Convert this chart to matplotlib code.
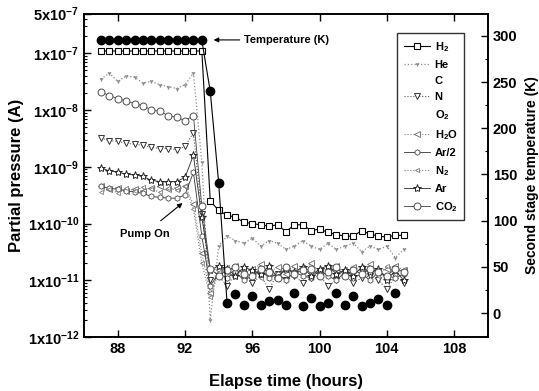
import matplotlib
matplotlib.use('Agg')
import matplotlib.pyplot as plt
from matplotlib.lines import Line2D
from matplotlib.ticker import FixedLocator, MultipleLocator, NullFormatter

plt.rcParams.update({
    'font.family': ['Liberation Sans', 'DejaVu Sans'],
    'font.weight': 'bold',
    'mathtext.fontset': 'custom',
    'mathtext.rm': 'Liberation Sans:bold',
    'mathtext.it': 'Liberation Sans:bold',
    'mathtext.bf': 'Liberation Sans:bold',
    'mathtext.default': 'rm',
})

# ---------------- data ----------------
times = [87.0, 87.5, 88.0, 88.5, 89.0, 89.5, 90.0, 90.5, 91.0, 91.5, 92.0, 92.5, 93.0,
         93.5, 94.0, 94.5, 95.0, 95.5, 96.0, 96.5, 97.0, 97.5, 98.0, 98.5, 99.0, 99.5,
         100.0, 100.5, 101.0, 101.5, 102.0, 102.5, 103.0, 103.5, 104.0, 104.5, 105.0]

h2 = [1.1e-7, 1.1e-7, 1.1e-7, 1.1e-7, 1.1e-7, 1.1e-7, 1.1e-7, 1.1e-7, 1.1e-7, 1.1e-7, 1.1e-7, 1.1e-7, 1.1e-7,
      2.5e-10, 1.7e-10, 1.4e-10, 1.3e-10, 1.05e-10, 1.0e-10, 9.5e-11, 9.0e-11, 9.5e-11, 7.2e-11, 9.5e-11,
      9.5e-11, 7.5e-11, 8.0e-11, 7.0e-11, 6.4e-11, 6.0e-11, 6.0e-11, 7.5e-11, 6.5e-11, 6.0e-11, 5.8e-11,
      6.2e-11, 6.2e-11]

he = [3.5e-8, 4.5e-8, 3.2e-8, 4.0e-8, 3.8e-8, 3.0e-8, 3.2e-8, 2.8e-8, 2.6e-8, 2.4e-8, 2.8e-8, 4.5e-8, 1.2e-9,
      2.0e-12, 4.0e-11, 6.0e-11, 5.0e-11, 4.5e-11, 5.5e-11, 4.0e-11, 5.0e-11, 4.5e-11, 3.5e-11, 4.0e-11,
      5.0e-11, 4.0e-11, 3.5e-11, 4.5e-11, 3.5e-11, 4.0e-11, 4.5e-11, 3.2e-11, 4.0e-11, 3.5e-11, 4.0e-11,
      2.5e-11, 3.5e-11]

n = [3.2e-9, 2.9e-9, 2.8e-9, 2.6e-9, 2.5e-9, 2.4e-9, 2.2e-9, 2.1e-9, 2.1e-9, 2.0e-9, 2.3e-9, 4.0e-9, 1.5e-10,
     1.0e-11, 1.2e-11, 8.0e-12, 1.3e-11, 1.1e-11, 9.0e-12, 1.2e-11, 7.0e-12, 1.3e-11, 1.0e-11, 1.2e-11,
     9.0e-12, 1.1e-11, 1.2e-11, 8.0e-12, 1.0e-11, 1.2e-11, 9.0e-12, 1.1e-11, 1.2e-11, 1.0e-11, 7.0e-12,
     1.2e-11, 9.0e-12]

h2o = [4.5e-10, 4.0e-10, 4.3e-10, 3.8e-10, 4.1e-10, 3.7e-10, 4.3e-10, 4.5e-10, 4.0e-10, 4.3e-10, 4.6e-10, 2.2e-10, 3.0e-11,
       6.0e-12, 1.5e-11, 1.4e-11, 1.8e-11, 1.3e-11, 1.6e-11, 1.9e-11, 1.4e-11, 1.7e-11, 1.3e-11, 1.8e-11,
       1.5e-11, 2.0e-11, 1.4e-11, 1.6e-11, 1.8e-11, 1.3e-11, 1.7e-11, 1.5e-11, 1.9e-11, 1.4e-11, 1.6e-11,
       1.8e-11, 1.5e-11]

ar_half = [4.5e-10, 4.2e-10, 4.0e-10, 3.8e-10, 3.6e-10, 3.4e-10, 3.0e-10, 2.9e-10, 2.8e-10, 2.8e-10, 3.2e-10, 8.0e-10, 6.0e-11,
           8.0e-12, 1.3e-11, 1.1e-11, 1.4e-11, 1.0e-11, 1.2e-11, 1.5e-11, 1.1e-11, 1.3e-11, 1.0e-11, 1.4e-11,
           1.2e-11, 1.1e-11, 1.5e-11, 1.2e-11, 1.0e-11, 1.4e-11, 1.1e-11, 1.3e-11, 1.0e-11, 1.4e-11, 1.2e-11,
           1.1e-11, 1.3e-11]

n2 = [3.6e-10, 4.0e-10, 3.5e-10, 4.2e-10, 3.8e-10, 4.4e-10, 4.0e-10, 3.6e-10, 4.2e-10, 3.9e-10, 4.5e-10, 1.8e-10, 2.0e-11,
      5.0e-12, 1.4e-11, 1.7e-11, 1.2e-11, 1.6e-11, 1.4e-11, 1.1e-11, 1.8e-11, 1.2e-11, 1.6e-11, 1.3e-11,
      1.7e-11, 1.2e-11, 1.5e-11, 1.8e-11, 1.3e-11, 1.6e-11, 1.2e-11, 1.7e-11, 1.4e-11, 1.2e-11, 1.8e-11,
      1.3e-11, 1.6e-11]

ar = [9.5e-10, 8.5e-10, 8.0e-10, 7.5e-10, 7.2e-10, 6.8e-10, 5.8e-10, 5.5e-10, 5.5e-10, 5.5e-10, 6.5e-10, 1.6e-9, 1.3e-10,
      1.5e-11, 1.8e-11, 1.6e-11, 1.2e-11, 1.7e-11, 1.5e-11, 1.3e-11, 1.8e-11, 1.1e-11, 1.6e-11, 1.4e-11,
      1.7e-11, 1.2e-11, 1.6e-11, 1.8e-11, 1.3e-11, 1.5e-11, 1.2e-11, 1.7e-11, 1.4e-11, 1.6e-11, 1.0e-11,
      1.5e-11, 1.0e-11]

co2 = [2.1e-8, 1.8e-8, 1.6e-8, 1.45e-8, 1.3e-8, 1.2e-8, 1.0e-8, 9.5e-9, 8.0e-9, 7.5e-9, 6.5e-9, 8.0e-9, 2.0e-10,
       1.6e-11, 1.2e-11, 1.5e-11, 1.7e-11, 1.3e-11, 1.2e-11, 1.6e-11, 1.4e-11, 1.1e-11, 1.7e-11, 1.3e-11,
       1.5e-11, 1.6e-11, 1.2e-11, 1.4e-11, 1.7e-11, 1.2e-11, 1.5e-11, 1.3e-11, 1.6e-11, 1.4e-11, 1.2e-11,
       1.6e-11, 1.4e-11]

times_T = [87.0, 87.5, 88.0, 88.5, 89.0, 89.5, 90.0, 90.5, 91.0, 91.5, 92.0, 92.5, 93.0,
           93.5, 94.0, 94.5, 95.0, 95.5, 96.0, 96.5, 97.0, 97.5, 98.0, 98.5, 99.0, 99.5,
           100.0, 100.5, 101.0, 101.5, 102.0, 102.5, 103.0, 103.5, 104.0, 104.5]
temps = [295, 295, 295, 295, 295, 295, 295, 295, 295, 295, 295, 295, 295,
         240, 141, 11, 21, 9, 18, 9, 13, 14, 9, 22, 8, 16, 8, 11, 22, 9, 18, 8, 11, 15, 9, 22]

ytick_vals = [1e-12, 1e-11, 1e-10, 1e-9, 1e-8, 1e-7, 5e-7]
ytick_labels = [r'1x10$^{-12}$', r'1x10$^{-11}$', r'1x10$^{-10}$', r'1x10$^{-9}$',
                r'1x10$^{-8}$', r'1x10$^{-7}$', r'5x10$^{-7}$']
xtick_vals = [88, 92, 96, 100, 104, 108]
ttick_vals = [0, 50, 100, 150, 200, 250, 300]

# ---------------- figure ----------------
fig = plt.figure(figsize=(5.39, 3.91), dpi=100)
ax = fig.add_axes([0.156, 0.138, 0.749, 0.827])
ax2 = ax.twinx()

common = dict(markeredgecolor='black', markerfacecolor='white', markeredgewidth=0.8)
l_h2, = ax.semilogy(times, h2, '-', color='black', lw=0.8, marker='s', ms=5, label=r'H$_2$', **common)
l_he, = ax.semilogy(times, he, ':', color='0.55', lw=0.9, marker='1', ms=3, label='He')
l_n, = ax.semilogy(times, n, ':', color='0.35', lw=0.8, marker='v', ms=5, label='N',
                   markeredgecolor='0.2', markerfacecolor='white', markeredgewidth=0.7)
l_h2o, = ax.semilogy(times, h2o, ':', color='0.5', lw=0.8, marker='<', ms=4, label=r'H$_2$O',
                     markeredgecolor='0.4', markerfacecolor='white', markeredgewidth=0.6)
l_arh, = ax.semilogy(times, ar_half, '-', color='0.2', lw=0.6, marker='h', ms=4, label='Ar/2',
                     markeredgecolor='0.3', markerfacecolor='white', markeredgewidth=0.6)
l_n2, = ax.semilogy(times, n2, ':', color='0.5', lw=0.8, marker='<', ms=3, label=r'N$_2$',
                    markeredgecolor='0.5', markerfacecolor='white', markeredgewidth=0.6)
l_ar, = ax.semilogy(times, ar, '-', color='0.15', lw=0.6, marker='*', ms=6, label='Ar',
                    markeredgecolor='0.15', markerfacecolor='white', markeredgewidth=0.7)
l_co2, = ax.semilogy(times, co2, '-', color='0.25', lw=0.6, marker='o', ms=5, label=r'CO$_2$',
                     markeredgecolor='0.3', markerfacecolor='white', markeredgewidth=0.7)

ax.set_xlim(86, 110)
ax.set_ylim(1e-12, 5e-7)
ax.yaxis.set_major_locator(FixedLocator(ytick_vals))
ax.set_yticklabels(ytick_labels, fontsize=10.5, fontweight='bold')
ax.yaxis.set_minor_locator(FixedLocator([m * 10.0 ** e for e in range(-12, -6) for m in range(2, 10)
                                         if m * 10.0 ** e < 5e-7 and m * 10.0 ** e > 1e-12]))
ax.yaxis.set_minor_formatter(NullFormatter())
ax.set_xticks(xtick_vals)
ax.set_xticklabels([str(v) for v in xtick_vals], fontsize=10.5, fontweight='bold')
ax.tick_params(axis='x', which='both', direction='in', top=True, length=5, width=1)
ax.tick_params(axis='y', which='major', direction='in', length=5, width=1, right=False)
ax.tick_params(axis='y', which='minor', direction='in', length=2.5, width=0.8, right=False)

# temperature
ax2.plot(times_T[12:16], temps[12:16], '-', color='black', lw=0.8)
ax2.plot(times_T, temps, 'o', color='black', ms=6, linestyle='none')
ax2.set_ylim(-26, 324)
ax2.set_yticks(ttick_vals)
ax2.set_yticklabels([str(v) for v in ttick_vals], fontsize=10.5, fontweight='bold')
ax2.yaxis.set_minor_locator(MultipleLocator(25))
ax2.tick_params(axis='y', which='major', direction='in', length=5, width=1)
ax2.tick_params(axis='y', which='minor', direction='in', length=2.5, width=0.8)

for a in (ax, ax2):
    for s in a.spines.values():
        s.set_linewidth(1.2)

ax.set_ylabel('Partial pressure (A)', fontsize=12, fontweight='bold')
ax.yaxis.set_label_coords(-0.15, 0.5)
ax.set_xlabel('Elapse time (hours)', fontsize=12, fontweight='bold')
ax.xaxis.set_label_coords(0.5, -0.115)
ax2.set_ylabel('Second stage temperature (K)', fontsize=10, fontweight='bold')
ax2.yaxis.set_label_coords(1.092, 0.5)

# annotations
ax2.annotate('Temperature (K)', xy=(93.7, 295.6), xytext=(95.5, 295.6),
             fontsize=8, fontweight='bold', va='center', ha='left',
             arrowprops=dict(arrowstyle='-|>', color='black', lw=0.8, mutation_scale=7,
                             shrinkA=1, shrinkB=0))
ax.annotate('Pump On', xy=(91.85, 2.3e-10), xytext=(89.6, 6.6e-11),
            fontsize=8, fontweight='bold', va='center', ha='center',
            arrowprops=dict(arrowstyle='-|>', color='black', lw=0.8, mutation_scale=7,
                            shrinkA=6, shrinkB=0))

# legend
blank = Line2D([], [], linestyle='none', marker=None)
handles = [l_h2, l_he, blank, l_n, blank, l_h2o, l_arh, l_n2, l_ar, l_co2]
labels = [r'H$_2$', 'He', 'C', 'N', r'O$_2$', r'H$_2$O', 'Ar/2', r'N$_2$', 'Ar', r'CO$_2$']
leg = ax2.legend(handles, labels, loc='upper left', bbox_to_anchor=(0.775, 0.94),
                 prop={'size': 8, 'weight': 'bold'}, frameon=True, fancybox=False,
                 edgecolor='black', handlelength=2.4, labelspacing=0.55, borderpad=0.6,
                 handletextpad=0.4, borderaxespad=0)
leg.get_frame().set_linewidth(1.0)

fig.savefig('out.png', dpi=100)
